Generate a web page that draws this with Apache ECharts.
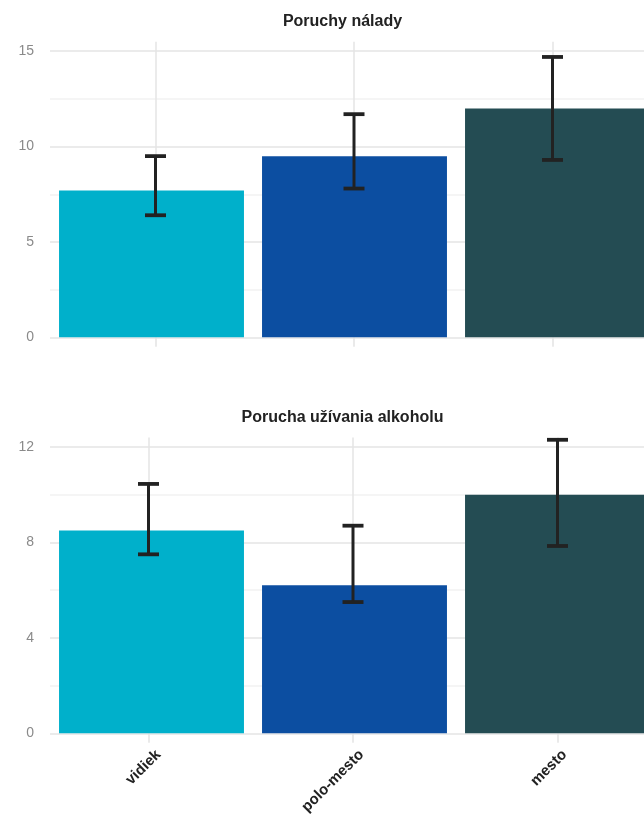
<!DOCTYPE html>
<html>
<head>
<meta charset="utf-8">
<title>Poruchy podľa typu bydliska</title>
<script src="https://cdn.jsdelivr.net/npm/echarts@6/dist/echarts.min.js"></script>
<style>
  html, body { margin: 0; padding: 0; background: #ffffff; overflow: hidden; }
  #chart { width: 644px; height: 819px; }
</style>
</head>
<body>
<div id="chart"></div>
<script>
// Residence type categories shared by both panels
const categories = ['vidiek', 'polo-mesto', 'mesto'];
const barColors = ['#00B0CB', '#0C4EA1', '#244C53'];

// Panel 1: mood disorders (mean with interval)
const moodTitle = 'Poruchy nálady';
const moodMean = [7.7, 9.5, 12.0];
const moodLow = [6.4, 7.8, 9.3];
const moodHigh = [9.5, 11.7, 14.7];
const moodTickLabels = [0, 5, 10, 15];

// Panel 2: alcohol use disorder (mean with interval)
const alcTitle = 'Porucha užívania alkoholu';
const alcMean = [8.5, 6.2, 10.0];
const alcLow = [7.5, 5.5, 7.85];
const alcHigh = [10.45, 8.7, 12.3];
const alcTickLabels = [0, 4, 8, 12];

const FONT = '"Liberation Sans", Arial, Helvetica, sans-serif';
const GRID_MAJOR = '#e4e4e4';
const GRID_MINOR = '#f2f2f2';
const ERR_COLOR = '#222222';

// Each panel has a bar grid, an overlaid grid carrying the interval whiskers
// and vertical guides, and (bottom only) a grid carrying the category labels.
// Plot areas run past the right edge of the canvas.
const panels = [
  { title: moodTitle, titleY: 22, top: 41.7, bottom: 481.7, max: 15.5, step: 2.5,
    ticks: moodTickLabels, mean: moodMean, low: moodLow, high: moodHigh,
    errLeft: 56.25, errWidth: 595.5, showCats: false },
  { title: alcTitle, titleY: 417.5, top: 437.4, bottom: 85.7, max: 12.4, step: 2,
    ticks: alcTickLabels, mean: alcMean, low: alcLow, high: alcHigh,
    errLeft: 46.25, errWidth: 613.5, showCats: true }
];

const BAR_LEFT = 50;
const BAR_WIDTH = 609;
const LABEL_LEFT = 57;

const option = {
  animation: false,
  backgroundColor: '#ffffff',
  textStyle: { fontFamily: FONT },
  title: [],
  grid: [],
  xAxis: [],
  yAxis: [],
  series: []
};

function whisker(params, api) {
  const x = api.value(0);
  const pLo = api.coord([x, api.value(1)]);
  const pHi = api.coord([x, api.value(2)]);
  const half = 10.5;
  const capStyle = { stroke: ERR_COLOR, lineWidth: 3.8 };
  return {
    type: 'group',
    children: [
      { type: 'line', shape: { x1: pLo[0], y1: pLo[1], x2: pHi[0], y2: pHi[1] },
        style: { stroke: ERR_COLOR, lineWidth: 3 } },
      { type: 'line', shape: { x1: pHi[0] - half, y1: pHi[1], x2: pHi[0] + half, y2: pHi[1] }, style: capStyle },
      { type: 'line', shape: { x1: pLo[0] - half, y1: pLo[1], x2: pLo[0] + half, y2: pLo[1] }, style: capStyle }
    ]
  };
}

function hiddenValueAxis(gridIndex, p) {
  return {
    type: 'value', gridIndex, min: 0, max: p.max, interval: p.step,
    axisLine: { show: false }, axisTick: { show: false },
    axisLabel: { show: false }, splitLine: { show: false }
  };
}

function makeGrid(left, width, p) {
  return { left, width, top: p.top, bottom: p.bottom, outerBoundsMode: 'none', containLabel: false };
}

panels.forEach((p) => {
  const barGrid = option.grid.length;
  const errGrid = barGrid + 1;

  option.title.push({
    text: p.title,
    left: 342.5,
    top: p.titleY,
    padding: 0,
    textAlign: 'center',
    textVerticalAlign: 'middle',
    textStyle: { fontFamily: FONT, fontSize: 16, fontWeight: 'bold', color: '#222222' }
  });

  option.grid.push(
    makeGrid(BAR_LEFT, BAR_WIDTH, p),
    makeGrid(p.errLeft, p.errWidth, p)
  );

  option.xAxis.push(
    {
      type: 'category', gridIndex: barGrid, data: categories,
      axisLine: { show: false }, axisTick: { show: false }, splitLine: { show: false },
      axisLabel: { show: false }
    },
    {
      type: 'category', gridIndex: errGrid, data: categories,
      axisLine: { show: false },
      axisLabel: { show: false, interval: 0 },
      axisTick: { show: true, alignWithLabel: true, interval: 0, length: 9.5,
        lineStyle: { color: GRID_MAJOR, width: 1.5 } },
      splitLine: { show: true, alignWithLabel: true, interval: 0,
        lineStyle: { color: GRID_MAJOR, width: 1.5 } }
    }
  );

  option.yAxis.push(
    {
      type: 'value', gridIndex: barGrid, min: 0, max: p.max, interval: p.step,
      axisLine: { show: false }, axisTick: { show: false },
      axisLabel: {
        margin: 16, fontFamily: FONT, fontSize: 14, color: '#8a8a8a',
        showMaxLabel: false,
        formatter: v => (p.ticks.indexOf(v) >= 0 ? String(v) : '')
      },
      splitLine: { show: true, showMaxLine: false,
        lineStyle: { color: [GRID_MAJOR, GRID_MINOR], width: 1.5 } }
    },
    hiddenValueAxis(errGrid, p)
  );

  option.series.push(
    {
      type: 'bar', xAxisIndex: barGrid, yAxisIndex: barGrid,
      barWidth: '91.1%',
      data: p.mean.map((v, i) => ({ value: v, itemStyle: { color: barColors[i] } })),
      z: 2
    },
    {
      type: 'custom', xAxisIndex: errGrid, yAxisIndex: errGrid,
      renderItem: whisker,
      encode: { x: 0, y: [1, 2] },
      data: categories.map((c, i) => [i, p.low[i], p.high[i]]),
      z: 3
    }
  );

  if (p.showCats) {
    const labelGrid = option.grid.length;
    option.grid.push(makeGrid(LABEL_LEFT, BAR_WIDTH, p));
    option.xAxis.push({
      type: 'category', gridIndex: labelGrid, data: categories,
      axisLine: { show: false }, axisTick: { show: false }, splitLine: { show: false },
      axisLabel: {
        show: true, rotate: 45, margin: 19, interval: 0,
        fontFamily: FONT, fontSize: 15, fontWeight: 'bold', color: '#222222'
      }
    });
    option.yAxis.push(hiddenValueAxis(labelGrid, p));
  }
});

const chart = echarts.init(document.getElementById('chart'), null, { renderer: 'canvas' });
chart.setOption(option);
</script>
</body>
</html>
